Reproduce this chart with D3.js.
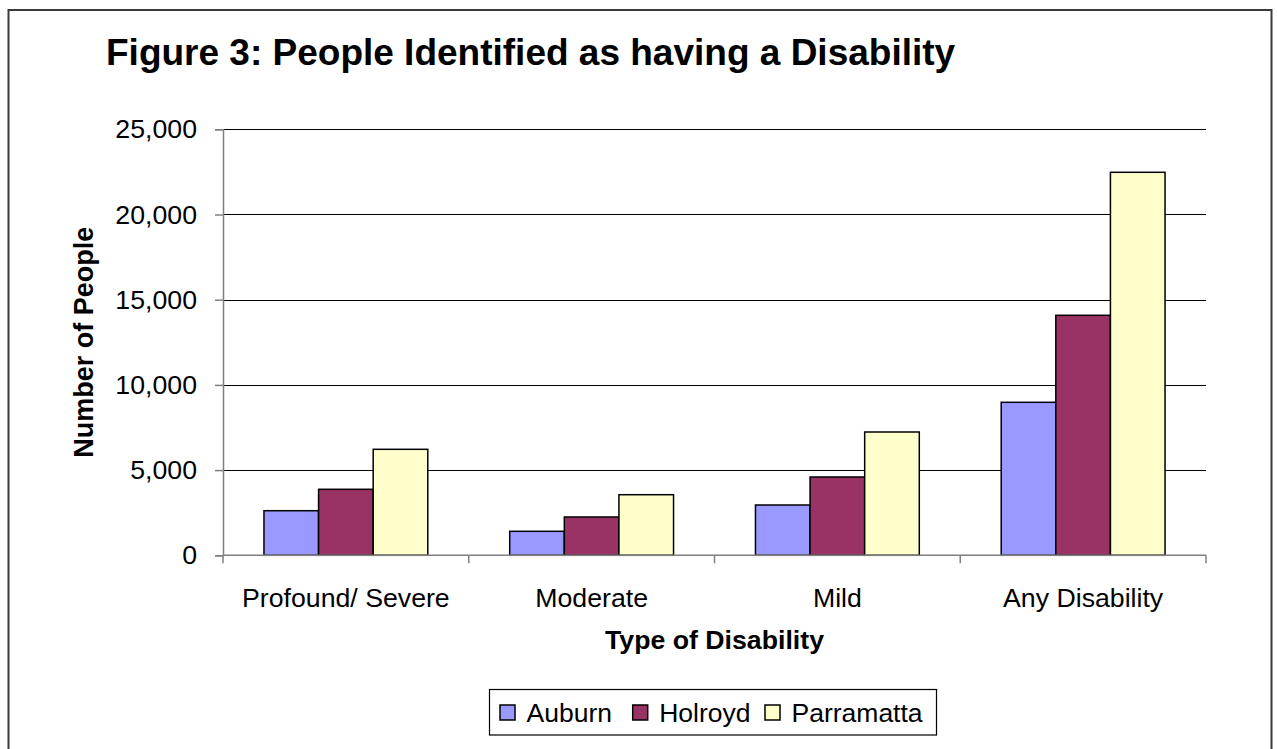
<!DOCTYPE html>
<html>
<head>
<meta charset="utf-8">
<script src="https://cdn.jsdelivr.net/npm/d3@7"></script>
<style>
  html, body { margin: 0; padding: 0; background: #fff; }
  svg { display: block; font-family: "Liberation Sans", Arial, sans-serif; }
</style>
</head>
<body>
<svg id="chart" width="1277" height="749"></svg>
<script>
const categories = ["Profound/ Severe", "Moderate", "Mild", "Any Disability"];
const seriesNames = ["Auburn", "Holroyd", "Parramatta"];
const auburn = [2617, 1408, 2952, 8979];
const holroyd = [3873, 2248, 4595, 14085];
const parramatta = [6220, 3556, 7236, 22477];
const yTicks = [0, 5000, 10000, 15000, 20000, 25000];
const colors = ["#9999FF", "#993366", "#FFFFCC"];

(function () {
const seriesValues = [auburn, holroyd, parramatta];
const svg = d3.select("#chart");

const plotL = 223, plotR = 1206, plotT = 129.3, plotB = 555.3;

// outer frame
svg.append("rect")
  .attr("x", 8.5).attr("y", 10).attr("width", 1263).attr("height", 760)
  .attr("fill", "#fff").attr("stroke", "#3a3a3a").attr("stroke-width", 2);

// title
svg.append("text")
  .attr("x", 106).attr("y", 65)
  .attr("font-size", 37).attr("font-weight", "bold").attr("fill", "#000")
  .text("Figure 3: People Identified as having a Disability");

const x0 = d3.scaleBand().domain(categories).range([plotL, plotR]).padding(0);
const bw = x0.bandwidth();
const x1 = d3.scaleBand().domain(seriesNames).range([bw * 1.5 / 9, bw - bw * 1.5 / 9]).padding(0);
const y = d3.scaleLinear().domain([0, 25000]).range([plotB, plotT]);

// gridlines
svg.append("g").selectAll("line")
  .data(yTicks.filter(d => d > 0))
  .join("line")
  .attr("x1", plotL).attr("x2", plotR)
  .attr("y1", d => Math.round(y(d)) + 0.5).attr("y2", d => Math.round(y(d)) + 0.5)
  .attr("stroke", "#000").attr("stroke-width", 1);

// y axis
const yAxis = d3.axisLeft(y).tickValues(yTicks).tickSize(8).tickPadding(18)
  .tickFormat(d3.format(","));
const gy = svg.append("g").attr("transform", `translate(${plotL},0)`).call(yAxis);
gy.select(".domain").attr("stroke", "#808080").attr("stroke-width", 1.5);
gy.selectAll(".tick line").attr("stroke", "#808080").attr("stroke-width", 1.5);
gy.selectAll(".tick text").attr("font-size", 26.7).attr("fill", "#000")
  .attr("font-family", "'Liberation Sans', Arial, sans-serif");

// bars
const groups = svg.append("g").selectAll("g")
  .data(categories)
  .join("g")
  .attr("transform", d => `translate(${x0(d)},0)`);
groups.selectAll("rect")
  .data((c, i) => seriesNames.map((s, j) => ({ s, j, v: seriesValues[j][i] })))
  .join("rect")
  .attr("x", d => x1(d.s))
  .attr("width", x1.bandwidth())
  .attr("y", d => y(d.v))
  .attr("height", d => y(0) - y(d.v))
  .attr("fill", d => colors[d.j])
  .attr("stroke", "#000").attr("stroke-width", 1.5);

// x axis line
svg.append("line")
  .attr("x1", plotL).attr("x2", plotR).attr("y1", plotB).attr("y2", plotB)
  .attr("stroke", "#808080").attr("stroke-width", 1.5);
// x axis ticks at category boundaries
const boundaries = categories.map(c => x0(c)).concat([x0(categories[categories.length - 1]) + bw]);
svg.append("g").selectAll("line")
  .data(boundaries)
  .join("line")
  .attr("x1", d => d).attr("x2", d => d)
  .attr("y1", plotB).attr("y2", plotB + 8)
  .attr("stroke", "#808080").attr("stroke-width", 1.5);
// category labels
svg.append("g").selectAll("text")
  .data(categories)
  .join("text")
  .attr("x", d => x0(d) + bw / 2)
  .attr("y", 607)
  .attr("text-anchor", "middle")
  .attr("font-size", 26.7).attr("fill", "#000")
  .text(d => d);

// axis titles
svg.append("text")
  .attr("x", (plotL + plotR) / 2).attr("y", 649)
  .attr("text-anchor", "middle")
  .attr("font-size", 26.7).attr("font-weight", "bold")
  .text("Type of Disability");
svg.append("text")
  .attr("transform", `translate(93,${(plotT + plotB) / 2}) rotate(-90)`)
  .attr("text-anchor", "middle")
  .attr("font-size", 27).attr("font-weight", "bold")
  .text("Number of People");

// legend
const legend = svg.append("g");
legend.append("rect")
  .attr("x", 489.5).attr("y", 689.5).attr("width", 447).attr("height", 45.5)
  .attr("fill", "#fff").attr("stroke", "#000").attr("stroke-width", 1.2);
const legendX = [500, 632.7, 765];
seriesNames.forEach((s, i) => {
  legend.append("rect")
    .attr("x", legendX[i]).attr("y", 705).attr("width", 15).attr("height", 15)
    .attr("fill", colors[i]).attr("stroke", "#000").attr("stroke-width", 1.5);
  legend.append("text")
    .attr("x", legendX[i] + 26.5).attr("y", 721.5)
    .attr("font-size", 26.5).attr("fill", "#000")
    .text(s);
});
})();
</script>
</body>
</html>
